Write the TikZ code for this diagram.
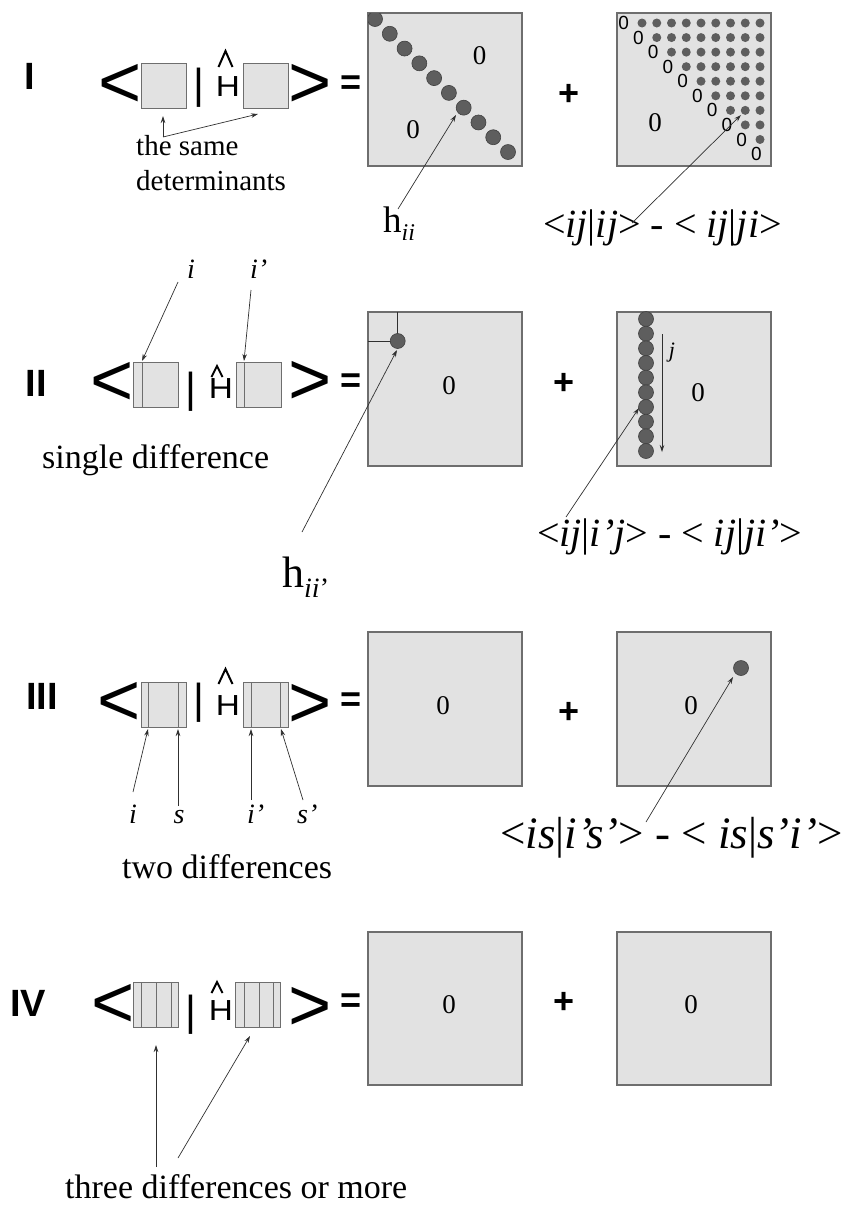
\documentclass[tikz,border=0pt]{standalone}
\usepackage{fontspec}
\usepackage{graphicx}
\setmainfont{Liberation Serif}
\newfontfamily\arial{Liberation Sans}
\usetikzlibrary{arrows.meta}
\definecolor{matfill}{HTML}{E2E2E2}
\definecolor{matdraw}{HTML}{6E6E6E}
\definecolor{dotfill}{HTML}{5E5E5E}
\definecolor{dotdraw}{HTML}{404040}
\definecolor{arrcol}{HTML}{303030}
\begin{document}
\begin{tikzpicture}[x=1pt,y=-1pt,
 mat/.style={draw=matdraw, fill=matfill, line width=1.1pt, minimum width=154pt, minimum height=154pt, inner sep=0pt},
 detbox/.style={draw=matdraw, fill=matfill, line width=1pt, minimum width=45pt, minimum height=45pt, inner sep=0pt},
 strip/.style={draw=matdraw, line width=1pt},
 bigdot/.style={circle, fill=dotfill, draw=dotdraw, line width=0.6pt, minimum size=15pt, inner sep=0pt},
 smalldot/.style={circle, fill=dotfill, minimum size=9pt, inner sep=0pt},
 arr/.style={draw=arrcol, line width=0.7pt, -{Stealth[length=7pt,width=4.5pt]}},
 thinline/.style={draw=arrcol, line width=0.8pt},
 roman/.style={inner sep=0pt, font=\arial\bfseries\fontsize{38}{38}\selectfont},
 bra/.style={inner sep=0pt, font=\arial\fontsize{74}{74}\selectfont},
 barglyph/.style={inner sep=0pt, font=\arial\fontsize{42}{42}\selectfont},
 ham/.style={inner sep=0pt, font=\arial\fontsize{29}{29}\selectfont},
 hatline/.style={draw=black, line width=2pt, line join=miter},
 op/.style={inner sep=0pt, font=\arial\bfseries\fontsize{36}{36}\selectfont},
 zero/.style={inner sep=0pt, font=\fontsize{27}{27}\selectfont},
 szero/.style={inner sep=0pt, font=\arial\fontsize{19}{19}\selectfont},
 caption/.style={inner sep=0pt, font=\fontsize{34}{34}\selectfont},
 ilabel/.style={inner sep=0pt, font=\itshape\fontsize{28}{28}\selectfont},
]
\useasboundingbox (0,0) rectangle (844,1205);

% ================= Row I =================
\node[roman] (r1) at (30,76) {I};
\node[bra] (lt1) at (120,86) {<};
\node[detbox] (b1l) at (163.5,85.5) {};
\node[barglyph] (v1) at (199,87.5) {|};
\node[ham] (h1) at (228,86.5) {\scalebox{1.15}[1]{H}};
\draw[hatline] (218.5,67) -- (225.5,51) -- (232.5,67);
\node[detbox] (b1r) at (266,85.5) {};
\node[bra] (gt1) at (310,86) {>};
\node[op] (eq1) at (351,85) {=};
\node[mat, minimum height=153pt] (A1) at (445,89.5) {};
\begin{scope}
\clip (368,13) rectangle (522,166);
\foreach \k in {1,...,10}{
  \node[bigdot] (d\k) at ({375+14.78*(\k-1)},{19+14.78*(\k-1)}) {};
}
\end{scope}
\node[zero] (A1z1) at (479.5,56) {0};
\node[zero] (A1z2) at (413,130) {0};
\node[op] (pl1) at (569,94.5) {+};
\node[mat, minimum height=153pt] (B1) at (694,89.5) {};
\foreach \k in {1,...,10}{
  \node[szero] (z\k) at ({627.25+14.75*(\k-1)-3.5},{23+14.56*(\k-1)}) {0};
}
\foreach \r in {1,...,9}{
  \pgfmathtruncatemacro{\cs}{\r+1}
  \foreach \c in {\cs,...,10}{
    \node[smalldot] (s\r-\c) at ({627.25+14.75*(\c-1)},{23+14.56*(\r-1)}) {};
  }
}
\node[zero] (B1z) at (655,123) {0};
% the same determinants
\node[inner sep=0pt, font=\fontsize{29}{29}\selectfont, anchor=base west] (same1) at (136,155) {the same};
\node[inner sep=0pt, font=\fontsize{29}{29}\selectfont, anchor=base west] (same2) at (136,190) {determinants};
\coordinate (ts) at (163,137);
\coordinate (tsA) at (163,116);
\coordinate (tsB) at (258,114);
\draw[arr] (ts) -- (tsA);
\draw[arr] (ts) -- (tsB);
% h_ii
\node[inner sep=0pt, font=\fontsize{37}{37}\selectfont, anchor=base west] (hii) at (383,232) {h\raisebox{-8pt}{\fontsize{24}{24}\selectfont\textit{ii}}};
\coordinate (hiiS) at (398,209);
\coordinate (hiiT) at (456,115);
\draw[arr] (hiiS) -- (hiiT);
% formula I
\node[inner sep=0pt, font=\fontsize{40}{40}\selectfont, anchor=base west] (f1) at (543,237) {<\textit{ij}|\textit{ij}> - < \textit{ij}|\textit{ji}>};
\coordinate (f1S) at (632,223);
\coordinate (f1T) at (741,115);
\draw[arr] (f1S) -- (f1T);

% ================= Row II =================
\node[roman] (r2) at (36,383) {II};
\node[bra] (lt2) at (112.5,383.5) {<};
\node[detbox] (b2l) at (156,385) {};
\draw[strip] (142,362.5) -- (142,407.5);
\node[barglyph] (v2) at (191,392) {|};
\node[ham] (h2) at (221,389) {\scalebox{1.15}[1]{H}};
\draw[hatline] (211.5,377) -- (217,366) -- (222.5,377);
\node[detbox] (b2r) at (258.5,385) {};
\draw[strip] (244,362.5) -- (244,407.5);
\node[bra] (gt2) at (310.5,383) {>};
\node[op] (eq2) at (351,383) {=};
\node[ilabel, anchor=base] (li2) at (191,278) {i};
\node[ilabel, anchor=base west] (lip2) at (250,278) {i’};
\coordinate (li2S) at (178,282);
\coordinate (li2T) at (142,361);
\coordinate (lip2S) at (251,290);
\coordinate (lip2T) at (244,361);
\draw[arr] (li2S) -- (li2T);
\draw[arr] (lip2S) -- (lip2T);
\node[caption, anchor=base west] (single) at (42,468) {single difference};
\node[mat] (A2) at (445,389) {};
\draw[thinline] (397.7,312) -- (397.7,341) -- (368,341);
\node[bigdot] (e2) at (397.7,341) {};
\node[zero] (A2z) at (449,386) {0};
\node[op] (pl2) at (564,384) {+};
\node[mat] (B2) at (694,389) {};
\foreach \k in {1,...,10}{
  \node[bigdot] (c\k) at (646,{319+14.67*(\k-1)}) {};
}
\coordinate (jtop) at (662,334);
\coordinate (jbot) at (662,452);
\draw[arr] (jtop) -- (jbot);
\node[inner sep=0pt, font=\itshape\fontsize{22}{22}\selectfont] (jl) at (672,353) {j};
\node[zero] (B2z) at (698,393) {0};
\node[inner sep=0pt, font=\fontsize{44}{44}\selectfont, anchor=base west] (hiip) at (282,587) {h\raisebox{-10pt}{\fontsize{28}{28}\selectfont\textit{ii}’}};
\coordinate (hipS) at (302,532);
\coordinate (hipT) at (397,350);
\draw[arr] (hipS) -- (hipT);
\node[inner sep=0pt, font=\fontsize{40}{40}\selectfont, anchor=base west] (f2) at (537,546) {<\textit{ij}|\textit{i’j}> - < \textit{ij}|\textit{ji’}>};
\coordinate (f2S) at (566,517);
\coordinate (f2T) at (639,408);
\draw[arr] (f2S) -- (f2T);

% ================= Row III =================
\node[roman] (r3) at (42,696) {III};
\node[bra] (lt3) at (119.5,703.5) {<};
\node[detbox] (b3l) at (163.5,705) {};
\draw[strip] (148,682.5) -- (148,727.5);
\draw[strip] (178,682.5) -- (178,727.5);
\node[barglyph] (v3) at (199,702.5) {|};
\node[ham] (h3) at (228,705.5) {\scalebox{1.15}[1]{H}};
\draw[hatline] (218.5,684) -- (225.5,669) -- (232.5,684);
\node[detbox] (b3r) at (266,705) {};
\draw[strip] (251,682.5) -- (251,727.5);
\draw[strip] (280,682.5) -- (280,727.5);
\node[bra] (gt3) at (310.5,706) {>};
\node[op] (eq3) at (351,702) {=};
\node[ilabel, anchor=base] (li3) at (133,823) {i};
\node[ilabel, anchor=base] (ls3) at (179,823) {s};
\node[ilabel, anchor=base west] (lip3) at (247,823) {i’};
\node[ilabel, anchor=base west] (lsp3) at (297,823) {s’};
\coordinate (i3S) at (133,792);
\coordinate (i3T) at (148,729);
\coordinate (s3S) at (178,806);
\coordinate (s3T) at (178,729);
\coordinate (ip3S) at (251,800);
\coordinate (ip3T) at (251,729);
\coordinate (sp3S) at (303,800);
\coordinate (sp3T) at (281,729);
\draw[arr] (i3S) -- (i3T);
\draw[arr] (s3S) -- (s3T);
\draw[arr] (ip3S) -- (ip3T);
\draw[arr] (sp3S) -- (sp3T);
\node[caption, anchor=base west] (two) at (122,878) {two differences};
\node[mat] (A3) at (445,709) {};
\node[zero] (A3z) at (443,706) {0};
\node[op] (pl3) at (569,713) {+};
\node[mat] (B3) at (694,709) {};
\node[bigdot] (e3) at (741,668) {};
\node[zero] (B3z) at (691,706) {0};
\node[inner sep=0pt, font=\fontsize{45}{45}\selectfont, anchor=base west] (f3) at (500,848) {<\textit{is}|\textit{i’s’}> - < \textit{is}|\textit{s’i’}>};
\coordinate (f3S) at (646,822);
\coordinate (f3T) at (733,677);
\draw[arr] (f3S) -- (f3T);

% ================= Row IV =================
\node[roman] (r4) at (28,1003.5) {IV};
\node[bra] (lt4) at (113.5,1006) {<};
\node[detbox] (b4l) at (156,1004.5) {};
\draw[strip] (141.5,982) -- (141.5,1027);
\draw[strip] (156,982) -- (156,1027);
\draw[strip] (171,982) -- (171,1027);
\node[barglyph] (v4) at (191,1015) {|};
\node[ham] (h4) at (221,1011) {\scalebox{1.15}[1]{H}};
\draw[hatline] (211.5,993) -- (217,982) -- (222.5,993);
\node[detbox] (b4r) at (258,1004.5) {};
\draw[strip] (244,982) -- (244,1027);
\draw[strip] (259,982) -- (259,1027);
\draw[strip] (273,982) -- (273,1027);
\node[bra] (gt4) at (310.5,1009) {>};
\node[op] (eq4) at (351,1003) {=};
\node[mat, minimum height=153pt] (A4) at (445,1008.5) {};
\node[zero] (A4z) at (449,1005) {0};
\node[op] (pl4) at (564,1003) {+};
\node[mat, minimum height=153pt] (B4) at (694,1008.5) {};
\node[zero] (B4z) at (691,1005) {0};
\coordinate (t4S) at (156,1167);
\coordinate (t4T) at (156,1045);
\coordinate (u4S) at (178,1158);
\coordinate (u4T) at (250,1036);
\draw[arr] (t4S) -- (t4T);
\draw[arr] (u4S) -- (u4T);
\node[caption, anchor=base west] (three) at (65,1198) {three differences or more};
\end{tikzpicture}
\end{document}
